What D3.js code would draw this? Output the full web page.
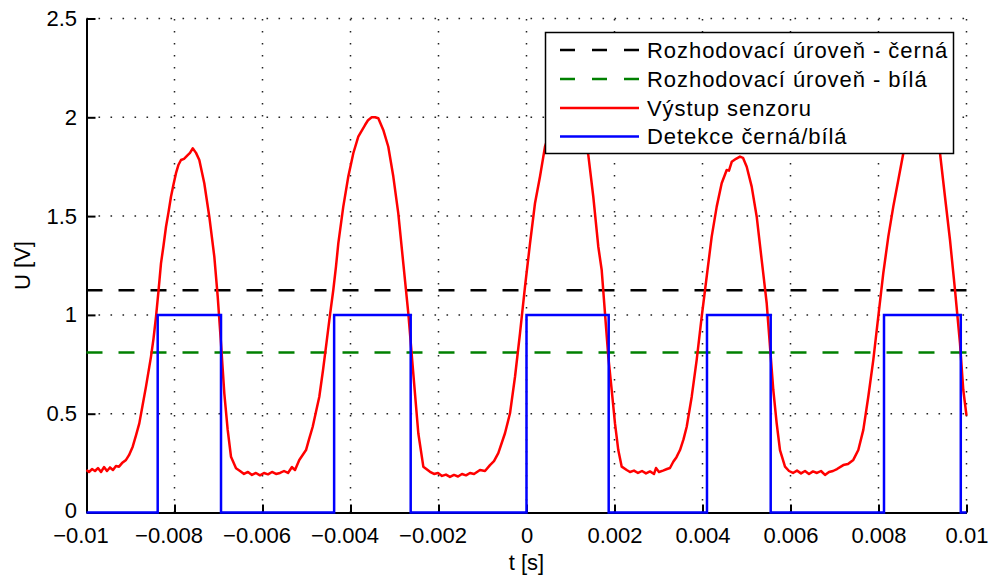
<!DOCTYPE html>
<html>
<head>
<meta charset="utf-8">
<script src="https://cdn.jsdelivr.net/npm/d3@7"></script>
<style>
  html, body { margin: 0; padding: 0; background: #fff; }
  svg { display: block; font-family: "Liberation Sans", Arial, Helvetica, sans-serif; }
</style>
</head>
<body>
<svg id="chart" width="989" height="577"></svg>
<script>
// ---- data ----
const xTicks = [-0.01, -0.008, -0.006, -0.004, -0.002, 0, 0.002, 0.004, 0.006, 0.008, 0.01];
const xTickLabels = ["\u22120.01", "\u22120.008", "\u22120.006", "\u22120.004", "\u22120.002", "0", "0.002", "0.004", "0.006", "0.008", "0.01"];
const yTicks = [0, 0.5, 1, 1.5, 2, 2.5];
const yTickLabels = ["0", "0.5", "1", "1.5", "2", "2.5"];

const levelBlack = 1.125;   // Rozhodovací úroveň - černá
const levelWhite = 0.81;    // Rozhodovací úroveň - bílá

const redT = [
 -0.010000,-0.009943,-0.009875,-0.009807,-0.009739,-0.009670,-0.009602,-0.009534,-0.009466,-0.009398,
 -0.009330,-0.009261,-0.009193,-0.009102,-0.009034,-0.008950,-0.008875,-0.008800,-0.008727,-0.008648,
 -0.008534,-0.008477,-0.008420,-0.008364,-0.008307,-0.008250,-0.008193,-0.008136,-0.008080,-0.008023,
 -0.007966,-0.007909,-0.007852,-0.007784,-0.007700,-0.007648,-0.007586,-0.007511,-0.007436,-0.007323,
 -0.007209,-0.007095,-0.007018,-0.006943,-0.006868,-0.006791,-0.006716,-0.006602,-0.006511,-0.006420,
 -0.006330,-0.006239,-0.006148,-0.006057,-0.005966,-0.005875,-0.005784,-0.005693,-0.005602,-0.005511,
 -0.005420,-0.005330,-0.005261,-0.005164,-0.005091,-0.005011,-0.004943,-0.004859,-0.004784,-0.004709,
 -0.004625,-0.004545,-0.004466,-0.004391,-0.004330,-0.004277,-0.004164,-0.004050,-0.003936,-0.003823,
 -0.003750,-0.003670,-0.003602,-0.003518,-0.003443,-0.003368,-0.003255,-0.003141,-0.003027,-0.002914,
 -0.002800,-0.002686,-0.002573,-0.002459,-0.002345,-0.002193,-0.002102,-0.002011,-0.001920,-0.001830,
 -0.001739,-0.001648,-0.001557,-0.001466,-0.001375,-0.001284,-0.001193,-0.001057,-0.000943,-0.000830,
 -0.000739,-0.000641,-0.000489,-0.000375,-0.000261,-0.000148,-0.000034, 0.000080, 0.000193, 0.000307,
  0.000420, 0.000580, 0.000739, 0.000898, 0.001057, 0.001216, 0.001330, 0.001405, 0.001518, 0.001632,
  0.001709, 0.001784, 0.001859, 0.001936, 0.002011, 0.002086, 0.002164, 0.002277, 0.002352, 0.002443,
  0.002534, 0.002625, 0.002716, 0.002807, 0.002898, 0.002943, 0.003011, 0.003102, 0.003193, 0.003261,
  0.003336, 0.003409, 0.003489, 0.003568, 0.003641, 0.003755, 0.003868, 0.003982, 0.004095, 0.004209,
  0.004323, 0.004436, 0.004550, 0.004602, 0.004664, 0.004761, 0.004852, 0.004920, 0.005005, 0.005118,
  0.005232, 0.005345, 0.005459, 0.005534, 0.005609, 0.005686, 0.005761, 0.005875, 0.005966, 0.006057,
  0.006148, 0.006239, 0.006330, 0.006420, 0.006511, 0.006602, 0.006693, 0.006784, 0.006875, 0.006966,
  0.007057, 0.007200, 0.007307, 0.007427, 0.007541, 0.007655, 0.007768, 0.007882, 0.007995, 0.008109,
  0.008223, 0.008336, 0.008450, 0.008564, 0.008716, 0.008875, 0.009034, 0.009193, 0.009307, 0.009398,
  0.009511, 0.009625, 0.009739, 0.009852, 0.009927, 0.010000
];
const redU = [
 0.215,0.205,0.220,0.210,0.225,0.205,0.230,0.210,0.228,0.215,
 0.235,0.232,0.250,0.266,0.290,0.333,0.390,0.451,0.540,0.637,
 0.789,0.880,0.991,1.120,1.261,1.350,1.446,1.520,1.598,1.660,
 1.717,1.760,1.784,1.790,1.809,1.820,1.843,1.820,1.784,1.666,
 1.497,1.295,1.092,0.856,0.603,0.418,0.282,0.224,0.210,0.195,
 0.205,0.190,0.200,0.188,0.200,0.193,0.205,0.195,0.200,0.210,
 0.200,0.230,0.215,0.266,0.290,0.316,0.370,0.434,0.510,0.586,
 0.720,0.860,1.000,1.126,1.244,1.362,1.548,1.700,1.818,1.902,
 1.930,1.961,1.985,2.000,2.000,1.995,1.936,1.851,1.700,1.514,
 1.261,1.008,0.704,0.401,0.232,0.206,0.195,0.200,0.185,0.192,
 0.180,0.190,0.182,0.195,0.188,0.200,0.195,0.215,0.210,0.240,
 0.260,0.300,0.401,0.502,0.687,0.907,1.143,1.362,1.565,1.700,
 1.851,1.960,2.030,2.050,2.030,1.960,1.870,1.809,1.598,1.345,
 1.227,1.008,0.789,0.620,0.451,0.316,0.232,0.215,0.205,0.212,
 0.200,0.210,0.198,0.208,0.195,0.225,0.205,0.212,0.220,0.225,
 0.257,0.280,0.316,0.370,0.434,0.586,0.772,0.991,1.193,1.396,
 1.548,1.666,1.733,1.730,1.775,1.790,1.801,1.795,1.750,1.649,
 1.497,1.278,1.059,0.839,0.620,0.451,0.316,0.232,0.210,0.200,
 0.212,0.198,0.210,0.195,0.208,0.200,0.210,0.190,0.205,0.210,
 0.220,0.240,0.245,0.266,0.316,0.418,0.586,0.772,0.991,1.211,
 1.396,1.548,1.683,1.818,1.900,1.950,1.960,1.920,1.860,1.818,
 1.598,1.379,1.126,0.856,0.620,0.490
];

// detection square wave (value held until next time)
const blueT = [-0.01, -0.008382, -0.006943, -0.004372, -0.002632, 0.0, 0.001868, 0.004102, 0.005550, 0.008125, 0.009870, 0.01];
const blueU = [0, 1, 0, 1, 0, 1, 0, 1, 0, 1, 0, 0];

const legendLabels = ["Rozhodovací úroveň - černá", "Rozhodovací úroveň - bílá", "Výstup senzoru", "Detekce černá/bílá"];
const legendColors = ["#000000", "#008000", "#ff0000", "#0000ff"];
const legendDashed = [true, true, false, false];

// ---- layout ----
const svg = d3.select("#chart");
const x0 = 86.5, x1 = 966.5, y0 = 512.5, y1 = 18.5;
const x = d3.scaleLinear().domain([-0.01, 0.01]).range([x0, x1]);
const y = d3.scaleLinear().domain([0, 2.5]).range([y0, y1]);
const fontSize = 22;

// grid
const grid = svg.append("g").attr("stroke", "#222").attr("stroke-width", 1.5).attr("stroke-dasharray", "1.6,10.4");
grid.selectAll("line.vx").data(xTicks.filter(d => d > -0.01)).enter().append("line")
  .attr("x1", d => x(d)).attr("x2", d => x(d)).attr("y1", y0).attr("y2", y1);
grid.selectAll("line.hy").data(yTicks.filter(d => d > 0)).enter().append("line")
  .attr("y1", d => y(d)).attr("y2", d => y(d)).attr("x1", x0).attr("x2", x1);

// axes
const xAxis = d3.axisBottom(x).tickValues(xTicks).tickFormat((d, i) => xTickLabels[i])
  .tickSizeInner(-8).tickSizeOuter(0).tickPadding(14.5);
const gx = svg.append("g").attr("transform", `translate(0,${y0})`).call(xAxis);
const yAxis = d3.axisLeft(y).tickValues(yTicks).tickFormat((d, i) => yTickLabels[i])
  .tickSizeInner(-9).tickSizeOuter(0).tickPadding(9.5);
const gy = svg.append("g").attr("transform", `translate(${x0},0)`).call(yAxis);
[gx, gy].forEach(g => {
  g.select(".domain").attr("stroke", "#000").attr("stroke-width", 2);
  g.selectAll(".tick line").attr("stroke", "#000").attr("stroke-width", 2);
  g.selectAll(".tick text").attr("fill", "#000").style("font-size", fontSize + "px")
    .style("font-family", '"Liberation Sans", Arial, Helvetica, sans-serif');
});
// negative labels: the number part is centred on the tick, the minus sign hangs to the left
gx.selectAll(".tick text").filter(d => d < 0).attr("dx", "-6");
// the "0" of the y axis is nudged up a touch so it clears the first x label
gy.selectAll(".tick text").filter(d => d === 0).attr("dy", "0.22em");

// axis labels
svg.append("text").attr("x", (x0 + x1) / 2).attr("y", 570).attr("text-anchor", "middle")
  .style("font-size", fontSize + "px").text("t [s]");
svg.append("text").attr("transform", `translate(30,${(y0 + y1) / 2}) rotate(-90)`).attr("text-anchor", "middle")
  .style("font-size", fontSize + "px").text("U [V]");

// threshold lines
svg.append("line").attr("x1", x(-0.01)).attr("x2", x(0.01)).attr("y1", y(levelBlack)).attr("y2", y(levelBlack))
  .attr("stroke", "#000").attr("stroke-width", 2.6).attr("stroke-dasharray", "16,16");
svg.append("line").attr("x1", x(-0.01)).attr("x2", x(0.01)).attr("y1", y(levelWhite)).attr("y2", y(levelWhite))
  .attr("stroke", "#008000").attr("stroke-width", 2.6).attr("stroke-dasharray", "16,16");

// sensor output
const redData = redT.map((t, i) => [t, redU[i]]);
svg.append("path").datum(redData)
  .attr("d", d3.line().x(d => x(d[0])).y(d => y(d[1])))
  .attr("fill", "none").attr("stroke", "#ff0000").attr("stroke-width", 2.5).attr("stroke-linejoin", "round");

// detection
const blueData = blueT.map((t, i) => [t, blueU[i]]);
svg.append("path").datum(blueData)
  .attr("d", d3.line().x(d => x(d[0])).y(d => y(d[1])).curve(d3.curveStepAfter))
  .attr("fill", "none").attr("stroke", "#0000ff").attr("stroke-width", 2.5);

// legend
const lg = svg.append("g");
lg.append("rect").attr("x", 545.5).attr("y", 32.5).attr("width", 408).attr("height", 121)
  .attr("fill", "#fff").attr("stroke", "#000").attr("stroke-width", 1.5);
const rowY = [50, 79, 108, 136.5];
legendLabels.forEach((lab, i) => {
  lg.append("line").attr("x1", 560).attr("x2", 639).attr("y1", rowY[i]).attr("y2", rowY[i])
    .attr("stroke", legendColors[i]).attr("stroke-width", legendDashed[i] ? 2.6 : 2.5)
    .attr("stroke-dasharray", legendDashed[i] ? "15,17" : null);
  lg.append("text").attr("x", 647).attr("y", rowY[i]).attr("dy", "0.36em")
    .style("font-size", fontSize + "px").style("letter-spacing", "0.95px").text(lab);
});
</script>
</body>
</html>
